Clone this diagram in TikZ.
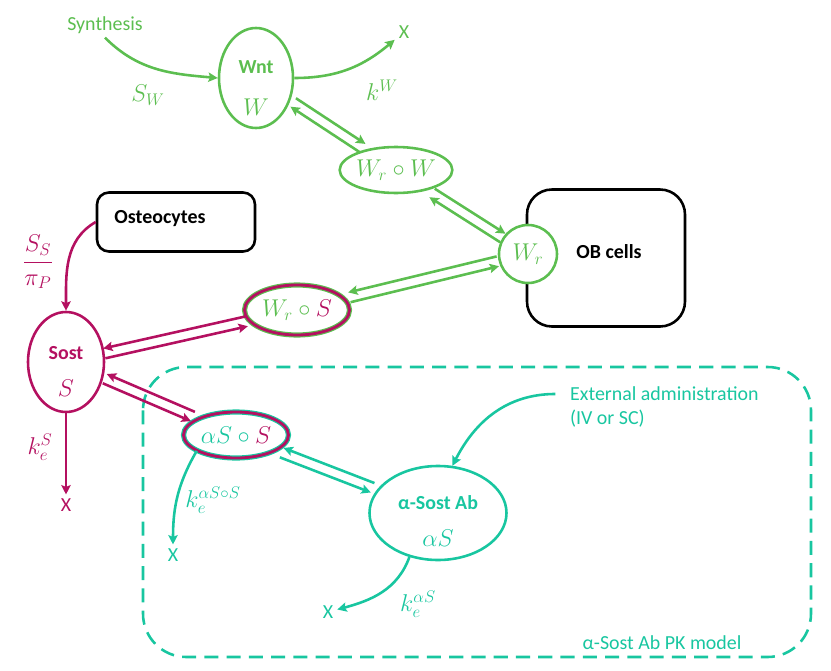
\documentclass[tikz,border=0pt]{standalone}
\usepackage{fontspec}
\setmainfont{Carlito}
\usepackage{tikz}
\usetikzlibrary{shapes.geometric,arrows.meta,calc}

\definecolor{wgreen}{RGB}{92,190,80}
\definecolor{smag}{RGB}{180,16,96}
\definecolor{abteal}{RGB}{24,198,160}

% two parallel arrows, one each way: [colour]{a}{b}{shorten at a}{shorten at b}{offset}
\newcommand{\twoway}[6][]{%
  \draw[arr,#1,shorten <=#4,shorten >=#5] ($(#2)!#6!90:(#3)$) -- ($(#3)!#6!-90:(#2)$);
  \draw[arr,#1,shorten <=#5,shorten >=#4] ($(#3)!#6!90:(#2)$) -- ($(#2)!#6!-90:(#3)$);
}

\tikzset{
  arr/.style={-{Stealth[length=8pt,width=8pt,inset=1.5pt]}, line width=2.2pt},
  pool/.style={ellipse, draw, line width=2.2pt, inner sep=0pt},
  cell/.style={draw=black, line width=2.2pt, inner sep=0pt},
  txt/.style={font=\fontsize{17}{21}\selectfont},
  bld/.style={font=\fontsize{17}{21}\selectfont\bfseries},
  mth/.style={font=\fontsize{20}{24}\selectfont}
}

\begin{document}
\begin{tikzpicture}[x=0.03cm, y=-0.03cm]
\useasboundingbox (0,0) rectangle (831,671);

% PK model frame
\draw[abteal, line width=2.2pt, dash pattern=on 12pt off 7pt, rounded corners=1.3cm] (143,367) rectangle (811,657);
\node[txt, abteal] (pk) at (662,643) {α-Sost Ab PK model};

% cells
\node[cell, rounded corners=0.75cm, minimum width=4.74cm, minimum height=4.11cm] (ob) at (606,258) {};
\node[bld] (obname) at (609,252) {OB cells};
\node[cell, rounded corners=0.36cm, minimum width=4.74cm, minimum height=1.77cm] (osteo) at (176,222) {};
\node[bld] (osteoname) at (160,219) {Osteocytes};

% pools
\node[pool, draw=wgreen, minimum width=2.22cm, minimum height=3cm] (wnt) at (256,78) {};
\node[bld, wgreen] (wntname) at (256,67) {Wnt};
\node[mth, wgreen] (wntsym) at (256,107) {$W$};

\node[pool, draw=wgreen, minimum width=3.06cm, minimum height=1.38cm, mth, text=wgreen] (wrw) at (396,170) {$W_r\circ W$};
\node[circle, draw=wgreen, fill=white, line width=2.2pt, inner sep=0pt, minimum size=1.74cm, mth, text=wgreen] (wr) at (528,254) {$W_r$};

\node[pool, draw=wgreen, double=smag, double distance=2.4pt, line width=1pt, minimum width=3.15cm, minimum height=1.5cm, mth] (wrs) at (297,310)
  {$\textcolor{wgreen}{W_r}\mathbin{\textcolor{wgreen}{\circ}}\textcolor{smag}{S}$};

\node[pool, draw=smag, minimum width=2.28cm, minimum height=3cm] (sost) at (66,362) {};
\node[bld, smag] (sostname) at (66,353) {Sost};
\node[mth, smag] (sostsym) at (66,388) {$S$};

\node[pool, draw=abteal, double=smag, double distance=2.4pt, line width=1pt, minimum width=3.15cm, minimum height=1.38cm, mth] (ass) at (236,435)
  {$\textcolor{abteal}{\alpha S}\mathbin{\textcolor{abteal}{\circ}}\textcolor{smag}{S}$};

\node[pool, draw=abteal, minimum width=4.11cm, minimum height=2.82cm] (asab) at (438,513) {};
\node[bld, abteal] (asabname) at (438,503) {α-Sost Ab};
\node[mth, abteal] (asabsym) at (438,538) {$\alpha S$};

% sources and sinks
\node[txt, wgreen] (synth) at (105,25) {Synthesis};
\node[txt, wgreen] (xw) at (404,32) {X};
\node[txt, smag] (xs) at (66,505) {X};
\node[txt, abteal] (xass) at (173,555) {X};
\node[txt, abteal] (xab) at (328,612) {X};
\node[txt, abteal, align=left, anchor=west] (ext) at (566,407) {External administration\\(IV or SC)};

% rates
\node[mth, wgreen] (sw) at (148,95) {$S_W$};
\node[mth, wgreen] (kw) at (382,90) {$k^W$};
\node[mth, smag] (ssp) at (38,262) {$\displaystyle\frac{S_S}{\pi_P}$};
\node[mth, smag] (kes) at (40,447) {$k_e^S$};
\node[mth, abteal] (kass) at (213,500) {$k_e^{\alpha S\circ S}$};
\node[mth, abteal] (kab) at (418,604) {$k_e^{\alpha S}$};

% fluxes
\draw[arr, wgreen] (synth.south) to[out=-45,in=175] (wnt.west);
\draw[arr, wgreen] (wnt.east) to[out=0,in=220] (xw);
\draw[arr, smag] (osteo.west) to[out=210,in=90] (sost.north);
\draw[arr, smag] (sost) -- (xs);
\draw[arr, abteal] (ass.202) to[out=240,in=90] (xass);
\draw[arr, abteal] (asab.237) to[out=250,in=15] (xab);
\draw[arr, abteal] ([shift={(-9pt,-10pt)}]ext.north west) to[out=180,in=63] (asab.73);

% binding
\twoway[wgreen]{wnt}{wrw}{38pt}{34pt}{4.3pt}
\twoway[wgreen]{wrw}{wr}{36.5pt}{25.5pt}{4.3pt}
\twoway[wgreen]{wr}{wrs}{26.5pt}{46pt}{-4.3pt}
\twoway[smag]{sost}{wrs}{33.5pt}{44pt}{-4.3pt}
\twoway[smag]{sost}{ass}{36pt}{40pt}{-4.3pt}
\twoway[abteal]{ass}{asab}{41.8pt}{59.8pt}{-4.3pt}

\end{tikzpicture}
\end{document}
